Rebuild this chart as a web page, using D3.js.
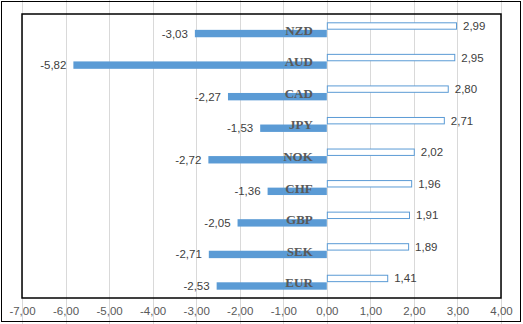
<!DOCTYPE html>
<html><head><meta charset="utf-8">
<script src="https://cdn.jsdelivr.net/npm/d3@7"></script>
<style>html,body{margin:0;padding:0;background:#fff;}svg{display:block;}</style>
</head><body><svg id="c" width="523" height="324"></svg>
<script>
const categories = ["NZD","AUD","CAD","JPY","NOK","CHF","GBP","SEK","EUR"];
const positiveValues = [2.99,2.95,2.80,2.71,2.02,1.96,1.91,1.89,1.41];
const negativeValues = [-3.03,-5.82,-2.27,-1.53,-2.72,-1.36,-2.05,-2.71,-2.53];
const tickValues = [-7,-6,-5,-4,-3,-2,-1,0,1,2,3,4];

const W = 523, H = 324;
const plot = {left:22, right:501, top:14, bottom:298};
const svg = d3.select("#c");
const fmt = v => d3.format(".2f")(v).replace(".", ",").replace("−","-");

const x = d3.scaleLinear().domain([-7,4]).range([plot.left, plot.right]);
const y = d3.scaleBand().domain(categories).range([plot.top, plot.bottom]);
const sub = d3.scaleBand().domain(["pos","neg"]).range([0, y.bandwidth()]).paddingInner(0.02).paddingOuter(1.1);

svg.append("rect").attr("width",W).attr("height",H).attr("fill","#fff");

// gridlines
svg.append("g").selectAll("line").data(tickValues).join("line")
  .attr("x1",d=>Math.round(x(d))+0.5).attr("x2",d=>Math.round(x(d))+0.5)
  .attr("y1",0).attr("y2",H).attr("stroke","#d9d9d9").attr("stroke-width",1);

// outer border
svg.append("rect").attr("x",1.5).attr("y",1.5).attr("width",519).attr("height",320)
  .attr("fill","none").attr("stroke","#000").attr("stroke-width",1);

// inner border
svg.append("rect").attr("x",plot.left).attr("y",plot.top)
  .attr("width",plot.right-plot.left).attr("height",plot.bottom-plot.top)
  .attr("fill","none").attr("stroke","#000").attr("stroke-width",1.5);

const blue = "#5b9bd5";
// negative bars
svg.append("g").selectAll("rect").data(categories).join("rect")
  .attr("x",(d,i)=>x(negativeValues[i]))
  .attr("y",d=>y(d)+sub("neg"))
  .attr("width",(d,i)=>x(0)-x(negativeValues[i]))
  .attr("height",sub.bandwidth())
  .attr("fill",blue);

// positive bars (outlined)
svg.append("g").selectAll("rect").data(categories).join("rect")
  .attr("x",x(0)+0.5)
  .attr("y",d=>y(d)+sub("pos")+0.5)
  .attr("width",(d,i)=>x(positiveValues[i])-x(0)-1)
  .attr("height",sub.bandwidth()-1)
  .attr("fill","#fff").attr("stroke",blue).attr("stroke-width",1);

// category labels
svg.append("g").selectAll("text").data(categories).join("text")
  .attr("x",x(0)-14)
  .attr("y",d=>y(d)+y.bandwidth()/2+5)
  .attr("text-anchor","end")
  .attr("font-family","'Liberation Serif', 'DejaVu Serif', serif")
  .attr("font-weight","bold").attr("font-size",13).attr("fill","#595959")
  .text(d=>d);

const labFont = "'Liberation Sans', Arial, sans-serif";
// positive value labels
svg.append("g").selectAll("text").data(categories).join("text")
  .attr("x",(d,i)=>x(positiveValues[i])+6)
  .attr("y",d=>y(d)+sub("pos")+sub.bandwidth()/2+4)
  .attr("font-family",labFont).attr("font-size",11.5).attr("fill","#404040")
  .text((d,i)=>fmt(positiveValues[i]));

// negative value labels
svg.append("g").selectAll("text").data(categories).join("text")
  .attr("x",(d,i)=>x(negativeValues[i])-7)
  .attr("y",d=>y(d)+sub("neg")+sub.bandwidth()/2+4)
  .attr("text-anchor","end")
  .attr("font-family",labFont).attr("font-size",11.5).attr("fill","#404040")
  .text((d,i)=>fmt(negativeValues[i]));

// x axis
const axis = d3.axisBottom(x).tickValues(tickValues).tickSize(0).tickPadding(9).tickFormat(fmt);
const ag = svg.append("g").attr("transform",`translate(0,${plot.bottom})`).call(axis);
ag.select(".domain").remove();
ag.selectAll("text").attr("font-family",labFont).attr("font-size",11.5).attr("fill","#595959");
</script></body></html>
